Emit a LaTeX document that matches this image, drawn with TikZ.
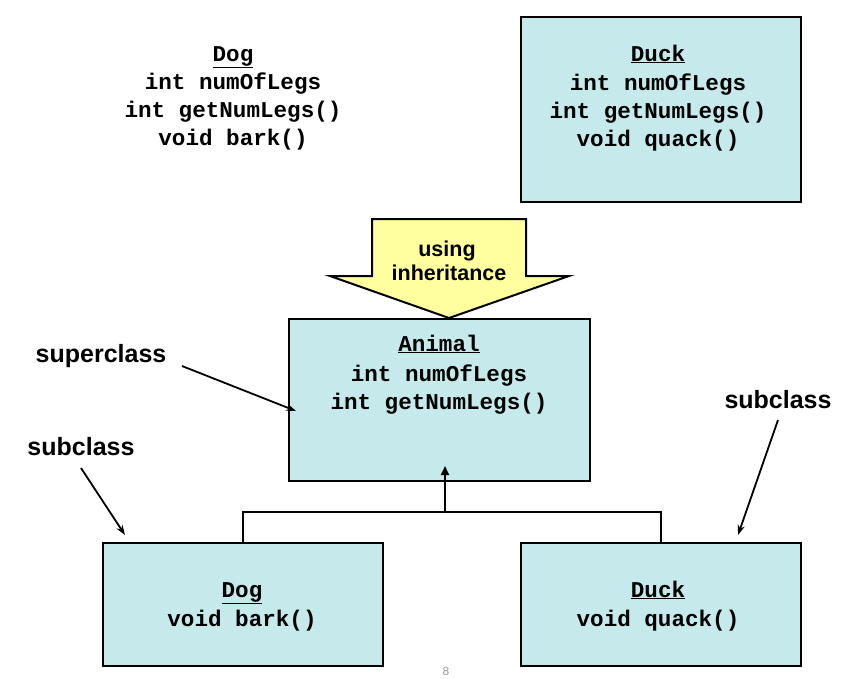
\documentclass[tikz,border=0pt]{standalone}
\usepackage{fontspec}
\setmainfont{Liberation Sans}
\newfontfamily\codefont{Liberation Mono}
\usetikzlibrary{arrows.meta}
\definecolor{boxcyan}{RGB}{198,233,235}
\definecolor{arrowyellow}{RGB}{255,255,160}
\tikzset{
  classbox/.style={draw=black, line width=2pt, fill=boxcyan, inner sep=0pt},
  code/.style={font=\codefont\bfseries\fontsize{22.6}{28}\selectfont, anchor=base, inner sep=0pt},
  lbl/.style={font=\bfseries\fontsize{25}{29}\selectfont, anchor=base, inner sep=0pt},
  ptr/.style={line width=1.8pt, -{Stealth[length=10pt,width=7pt]}},
  conn/.style={line width=2pt},
}
\begin{document}
\begin{tikzpicture}[x=1pt,y=-1pt]
\useasboundingbox (0,0) rectangle (864,678);

% top-left Dog (no box)
\node[code] (dogTn) at (233,61) {\underline{Dog}};
\node[code] (dogT1) at (233,89) {int numOfLegs};
\node[code] (dogT2) at (233,117) {int getNumLegs()};
\node[code] (dogT3) at (233,145) {void bark()};

% top-right Duck
\node[classbox, minimum width=280pt, minimum height=185pt] (duckT) at (661,109.5) {};
\node[code] (duckTn) at (658,61) {\underline{Duck}};
\node[code] (duckT1) at (658,90) {int numOfLegs};
\node[code] (duckT2) at (658,118) {int getNumLegs()};
\node[code] (duckT3) at (658,146) {void quack()};

% block arrow
\draw[line width=2pt, fill=arrowyellow, line join=miter]
  (372,219) -- (526,219) -- (526,276) -- (569,276) -- (449,318) -- (330,276) -- (372,276) -- cycle;
\node[font=\bfseries\fontsize{21.5}{25}\selectfont, anchor=base, inner sep=0pt] (using) at (447,256) {using};
\node[font=\bfseries\fontsize{21.5}{25}\selectfont, anchor=base, inner sep=0pt] (inh) at (449,280) {inheritance};

% Animal
\node[classbox, minimum width=301pt, minimum height=162pt] (animal) at (439.5,400) {};
\node[code] (animaln) at (439,351) {\underline{Animal}};
\node[code] (animal1) at (439,381) {int numOfLegs};
\node[code] (animal2) at (439,409) {int getNumLegs()};

% bottom Dog
\node[classbox, minimum width=280pt, minimum height=123pt] (dogB) at (243,604.5) {};
\node[code] (dogBn) at (242,597) {\underline{Dog}};
\node[code] (dogB1) at (242,626) {void bark()};

% bottom Duck
\node[classbox, minimum width=280pt, minimum height=123pt] (duckB) at (661,604.5) {};
\node[code] (duckBn) at (658,597) {\underline{Duck}};
\node[code] (duckB1) at (658,626) {void quack()};

% inheritance connectors
\coordinate (junc) at (445,512);
\coordinate (atip) at (445,466);
\draw[conn] (dogB.north) |- (junc) -| (duckB.north);
\draw[conn, -{Triangle[length=9pt,width=8pt]}] (junc) -- (atip);

% labels
\node[lbl] (super) at (101,362) {superclass};
\node[lbl] (subL) at (81,455) {subclass};
\node[lbl] (subR) at (778,408) {subclass};
\coordinate (superS) at (182,366);
\coordinate (superE) at (296,411);
\coordinate (subLS) at (81,468);
\coordinate (subLE) at (125,535);
\coordinate (subRS) at (778,420);
\coordinate (subRE) at (738,535);
\draw[ptr] (superS) -- (superE);
\draw[ptr] (subLS) -- (subLE);
\draw[ptr] (subRS) -- (subRE);

% page number
\node[font=\fontsize{12}{14}\selectfont, text=black!40, anchor=base, inner sep=0pt] (page) at (446,675) {8};
\end{tikzpicture}
\end{document}
